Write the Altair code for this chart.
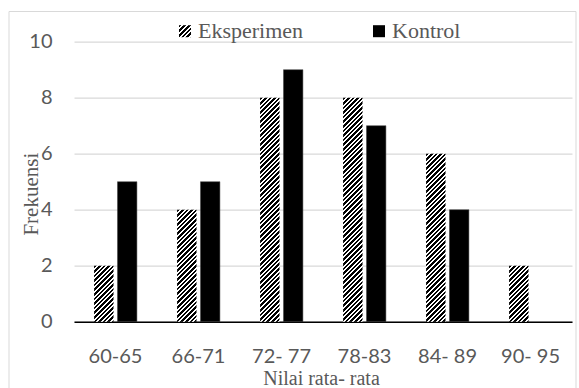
import altair as alt
import pandas as pd

# Frequency of average scores per interval, experiment vs. control class
categories = ["60-65", "66-71", "72- 77", "78-83", "84- 89", "90- 95"]
eksperimen = [2, 4, 8, 8, 6, 2]
kontrol = [5, 5, 9, 7, 4, 0]
series = ["Eksperimen", "Kontrol"]
y_ticks = [0, 2, 4, 6, 8, 10]

# Layout (pixels)
W, H = 498, 280
Y_MAX = 10
PAD_INNER, PAD_OUTER = 0.17, 0.86
GREY = "#595959"
SANS = "Lato"
SERIF = "Liberation Serif"

rows = []
for c, e, k in zip(categories, eksperimen, kontrol):
    rows.append({"cat": c, "series": "Eksperimen", "value": e})
    rows.append({"cat": c, "series": "Kontrol", "value": k})
df = pd.DataFrame(rows)

# bar width in px, derived from the band scales
band = W / len(categories)
step = band / (len(series) - PAD_INNER + 2 * PAD_OUTER)
bar_w = step * (1 - PAD_INNER)


def hatch(w, h, period=4.6, dark=0.6):
    """Upward diagonal stripes as a hard-stop gradient over a w x h box."""
    span = w + h
    c = span / (w * w + h * h)
    stops = []
    pos = 0.0
    while pos < span:
        a = round(pos / span, 5)
        b = round(min((pos + dark * period) / span, 1), 5)
        e = round(min((pos + period) / span, 1), 5)
        stops += [
            alt.GradientStop(offset=a, color="black"),
            alt.GradientStop(offset=b, color="black"),
            alt.GradientStop(offset=b, color="white"),
            alt.GradientStop(offset=e, color="white"),
        ]
        pos += period
    return alt.LinearGradient(gradient="linear", stops=stops,
                              x1=0, y1=0, x2=c * w, y2=c * h)


x_enc = alt.X(
    "cat:N", sort=categories,
    scale=alt.Scale(domain=categories, paddingInner=0, paddingOuter=0),
    axis=alt.Axis(
        title="Nilai rata- rata", titleFont=SERIF, titleFontSize=20,
        titleFontWeight="normal", titleColor=GREY, titleBaseline="alphabetic",
        titleX=247, titleY=63, titleAlign="center",
        labelFont=SANS, labelFontSize=20, labelColor=GREY, labelAngle=0,
        labelBaseline="alphabetic", labelPadding=41, ticks=False, tickSize=0,
        domainColor="black", domainWidth=1.5, grid=False,
    ),
)
xo_enc = alt.XOffset(
    "series:N",
    scale=alt.Scale(domain=series, paddingInner=PAD_INNER, paddingOuter=PAD_OUTER),
)
y_enc = alt.Y(
    "value:Q",
    scale=alt.Scale(domain=[0, Y_MAX]),
    axis=alt.Axis(
        values=y_ticks, grid=True, gridColor="#d9d9d9", gridWidth=1.3,
        domain=False, ticks=False, labelPadding=22,
        labelFont=SANS, labelFontSize=20, labelColor=GREY,
        title="Frekuensi", titleFont=SERIF, titleFontSize=21,
        titleFontWeight="normal", titleColor=GREY, titleBaseline="alphabetic",
        titleX=-37, titleY=152, titleAlign="center", titleAngle=-90,
    ),
)

base = alt.Chart(df).encode(x=x_enc, xOffset=xo_enc, y=y_enc)

layers = []

# hatched experiment bars, one layer per distinct height
for v in sorted(set(eksperimen)):
    h_px = v * H / Y_MAX
    layers.append(
        base.transform_filter(
            (alt.datum.series == "Eksperimen") & (alt.datum.value == v)
        ).mark_bar(fill=hatch(bar_w, h_px))
    )

# solid control bars
layers.append(
    base.transform_filter(
        (alt.datum.series == "Kontrol") & (alt.datum.value > 0)
    ).mark_bar(fill="black", stroke="#404040", strokeWidth=0.5)
)

# legend at the top
legend_sym_x = [111, 305]
legend_txt_x = [124, 318]
sym = 12
fills = [hatch(sym, sym), "black"]
for i, name in enumerate(series):
    layers.append(
        alt.Chart(pd.DataFrame({"s": [name]})).mark_rect(fill=fills[i]).encode(
            x=alt.value(legend_sym_x[i] - sym / 2),
            x2=alt.value(legend_sym_x[i] + sym / 2),
            y=alt.value(-16.5),
            y2=alt.value(-4.5),
        )
    )
    layers.append(
        alt.Chart(pd.DataFrame({"s": [name]})).mark_text(
            font=SERIF, fontSize=22, color=GREY, align="left",
            baseline="alphabetic",
        ).encode(
            text="s:N", x=alt.value(legend_txt_x[i]), y=alt.value(-3.7)
        )
    )

# chart frame
layers.append(
    alt.Chart(pd.DataFrame({"f": [0]})).mark_rect(
        fill=None, stroke="#d9d9d9", strokeWidth=1
    ).encode(
        x=alt.value(9 - 74), x2=alt.value(576 - 74),
        y=alt.value(11.5 - 41.7), y2=alt.value(392 - 41.7),
    )
)

chart = alt.layer(*layers).properties(
    width=W, height=H,
    autosize=alt.AutoSizeParams(type="none"),
    padding={"left": 74, "top": 41.7, "right": 7, "bottom": 66.3},
    background="white",
).configure_view(stroke=None)

chart.save("out.html", embed_options={"renderer": "svg", "actions": False})
